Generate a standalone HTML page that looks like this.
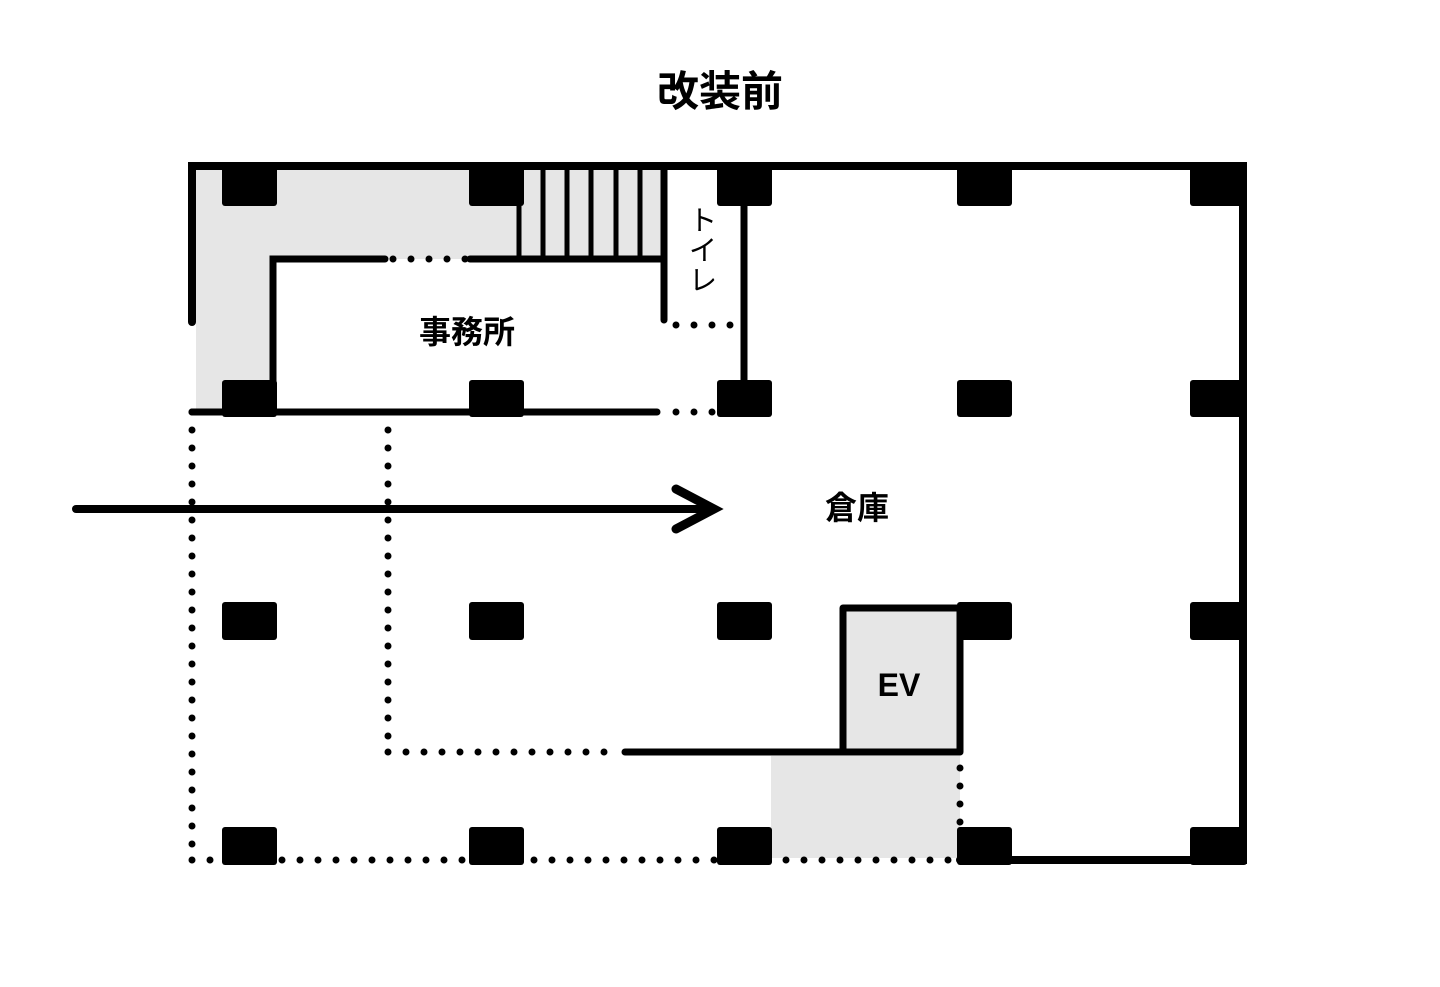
<!DOCTYPE html>
<html><head><meta charset="utf-8"><style>
html,body{margin:0;padding:0;background:#fff;}
svg{display:block;}
text{font-family:"Liberation Sans","Noto Sans CJK JP",sans-serif;fill:#000;}
</style></head><body>
<svg width="1440" height="987" viewBox="0 0 1440 987" xmlns="http://www.w3.org/2000/svg">
<text x="720" y="106" font-size="42" font-weight="bold" text-anchor="middle">改装前</text>
<rect x="196" y="170" width="467" height="89" fill="#e6e6e6"/>
<rect x="196" y="170" width="77" height="242" fill="#e6e6e6"/>
<rect x="771" y="756" width="189" height="102" fill="#e6e6e6"/>
<rect x="846" y="608" width="112" height="144" fill="#e6e6e6"/>
<g stroke="#000" stroke-linecap="round" fill="none">
<path d="M192 322 V166 H1243 V860 H960" stroke-width="8"/>
<g stroke-width="5" stroke-linecap="butt">
<line x1="519" y1="170" x2="519" y2="257"/><line x1="543" y1="170" x2="543" y2="257"/>
<line x1="567" y1="170" x2="567" y2="257"/><line x1="591" y1="170" x2="591" y2="257"/>
<line x1="616" y1="170" x2="616" y2="257"/><line x1="640" y1="170" x2="640" y2="257"/>
</g>
<path d="M273 410 V259 H385" stroke-width="7"/>
<line x1="470" y1="259" x2="664" y2="259" stroke-width="7"/>
<line x1="664" y1="166" x2="664" y2="320" stroke-width="7"/>
<line x1="744" y1="200" x2="744" y2="385" stroke-width="7"/>
<line x1="192" y1="412" x2="657" y2="412" stroke-width="7"/>
<path d="M625 752 H960 V608 H843 V752" stroke-width="7" stroke-linejoin="round"/>
<g stroke-width="7" stroke-dasharray="0 18">
<line x1="393" y1="259" x2="466" y2="259"/>
<line x1="676" y1="325" x2="731" y2="325"/>
<line x1="676" y1="412" x2="713" y2="412"/>
<line x1="192" y1="412" x2="192" y2="861"/>
<line x1="388" y1="430" x2="388" y2="753"/>
<line x1="388" y1="752" x2="611" y2="752"/>
<line x1="192" y1="860" x2="961" y2="860"/>
<line x1="960" y1="768" x2="960" y2="831"/>
</g>
<line x1="76" y1="509" x2="712" y2="509" stroke-width="8"/>
<path d="M676 489 L714 509 L676 529" stroke-width="9" stroke-linejoin="miter"/>
</g>
<g fill="#000">
<rect x="222" y="166" width="55" height="40" rx="3"/><rect x="469" y="166" width="55" height="40" rx="3"/>
<rect x="717" y="166" width="55" height="40" rx="3"/><rect x="957" y="166" width="55" height="40" rx="3"/>
<rect x="1190" y="166" width="57" height="40" rx="3"/>
<rect x="222" y="380" width="55" height="37" rx="3"/><rect x="469" y="380" width="55" height="37" rx="3"/>
<rect x="717" y="380" width="55" height="37" rx="3"/><rect x="957" y="380" width="55" height="37" rx="3"/>
<rect x="1190" y="380" width="57" height="37" rx="3"/>
<rect x="222" y="602" width="55" height="38" rx="3"/><rect x="469" y="602" width="55" height="38" rx="3"/>
<rect x="717" y="602" width="55" height="38" rx="3"/><rect x="957" y="602" width="55" height="38" rx="3"/>
<rect x="1190" y="602" width="57" height="38" rx="3"/>
<rect x="222" y="827" width="55" height="38" rx="3"/><rect x="469" y="827" width="55" height="38" rx="3"/>
<rect x="717" y="827" width="55" height="38" rx="3"/><rect x="957" y="827" width="55" height="38" rx="3"/>
<rect x="1190" y="827" width="57" height="38" rx="3"/>
</g>
<text x="467" y="343" font-size="32" font-weight="bold" text-anchor="middle">事務所</text>
<text x="857" y="519" font-size="32" font-weight="bold" text-anchor="middle">倉庫</text>
<text x="899" y="696" font-size="32" font-weight="bold" text-anchor="middle">EV</text>
<g font-size="28" text-anchor="middle">
<text x="703" y="230">ト</text>
<text x="703" y="260">イ</text>
<text x="703" y="290">レ</text>
</g>
</svg>
</body></html>
